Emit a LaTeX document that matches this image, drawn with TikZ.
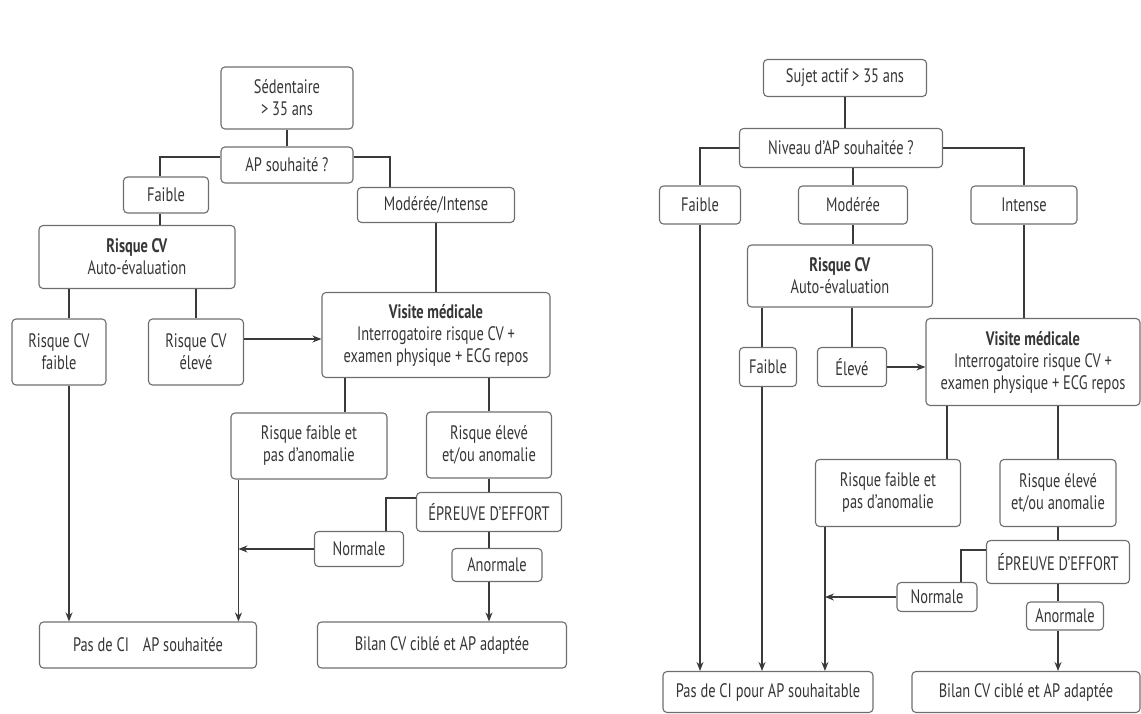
\documentclass[tikz,border=0pt]{standalone}
\usepackage{fontspec}
\setmainfont{PT Sans}[FakeStretch=0.74]
\usetikzlibrary{arrows.meta}
\definecolor{boxgray}{HTML}{6E6E6E}
\definecolor{linegray}{HTML}{3A3A3A}
\definecolor{txtgray}{HTML}{363636}

\begin{document}
\begin{tikzpicture}
    [ x=1pt, y=-1pt
    , every node/.style={font=\fontsize{19.5}{22}\selectfont, text=txtgray}
    , flowbox/.style={draw=boxgray, line width=1.1pt, rounded corners=4pt, align=center, inner sep=0pt}
    , link/.style={draw=linegray, line width=1.2pt}
    , >={Stealth[length=9pt,width=7pt]}
    ]
\useasboundingbox (0,0) rectangle (1141,713);

% left chart
\node[flowbox, minimum width=132pt, minimum height=62pt] (sed) at (287,98) {Sédentaire\\> 35 ans};
\node[flowbox, minimum width=132pt, minimum height=36pt] (aps) at (287,165) {AP souhaité ?};
\node[flowbox, minimum width=85pt, minimum height=36pt] (faibleL) at (166,195) {Faible};
\node[flowbox, minimum width=157pt, minimum height=35pt] (modint) at (436,205) {Modérée/Intense};
\node[flowbox, minimum width=196pt, minimum height=63pt] (rcvL) at (137,257) {\textbf{Risque CV}\\Auto-évaluation};
\node[flowbox, minimum width=94pt, minimum height=66pt] (rcvf) at (59,352) {Risque CV\\faible};
\node[flowbox, minimum width=95pt, minimum height=66pt] (rcve) at (196,352) {Risque CV\\élevé};
\node[flowbox, minimum width=228pt, minimum height=85pt] (visL) at (436,335) {\textbf{Visite médicale}\\Interrogatoire risque CV +\\examen physique + ECG repos};
\node[flowbox, minimum width=156pt, minimum height=66pt] (rfaL) at (309,446) {Risque faible et\\pas d’anomalie};
\node[flowbox, minimum width=125pt, minimum height=66pt] (reaL) at (489,445) {Risque élevé\\et/ou anomalie};
\node[flowbox, minimum width=145pt, minimum height=39pt] (effL) at (489,512) {ÉPREUVE D’EFFORT};
\node[flowbox, minimum width=89pt, minimum height=35pt] (normL) at (359,549) {Normale};
\node[flowbox, minimum width=90pt, minimum height=33pt] (anorL) at (497,565) {Anormale};
\node[flowbox, minimum width=217pt, minimum height=46pt] (pasL) at (148,645) {Pas de CI\hspace{10pt} AP souhaitée};
\node[flowbox, minimum width=249pt, minimum height=46pt] (bilL) at (442,645) {Bilan CV ciblé et AP adaptée};
\coordinate (jL) at ([xshift=8pt]rfaL.south west);

\draw[link] (sed) -- (aps);
\draw[link] ([yshift=8pt]aps.west) -| ([xshift=-6pt]faibleL.north);
\draw[link] ([yshift=8pt]aps.east) -| ([xshift=-46pt]modint.north);
\draw[link] ([xshift=-6pt]faibleL.south) -- ([xshift=-6pt]faibleL.south |- rcvL.north);
\draw[link] ([xshift=10pt]rcvf.north |- rcvL.south) -- ([xshift=10pt]rcvf.north);
\draw[link] (rcve.north |- rcvL.south) -- (rcve.north);
\draw[link,->] ([yshift=-4pt]visL.west -| rcve.east) -- ([yshift=-4pt]visL.west);
\draw[link] (modint) -- (visL);
\draw[link] ([xshift=-91pt]visL.south) -- ([xshift=-91pt]visL.south |- rfaL.north);
\draw[link] (reaL.north |- visL.south) -- (reaL.north);
\draw[link] (reaL) -- (effL);
\draw[link] ([yshift=14pt]effL.west) -| ([xshift=27pt]normL.north);
\draw[link] (effL.south) -- (effL.south |- anorL.north);
\draw[link,->] (effL.south |- anorL.south) -- (effL.south |- bilL.north);
\draw[link,->] ([xshift=10pt]rcvf.south) -- ([xshift=10pt]rcvf.south |- pasL.north);
\draw[link,->] (jL) -- (jL |- pasL.north);
\draw[link,->] (normL.west) -- (normL.west -| jL);

% right chart
\node[flowbox, minimum width=163pt, minimum height=37pt] (sujet) at (845,78) {Sujet actif > 35 ans};
\node[flowbox, minimum width=203pt, minimum height=39pt] (niv) at (841,148) {Niveau d’AP souhaitée ?};
\node[flowbox, minimum width=81pt, minimum height=38pt] (faibleR) at (700,205) {Faible};
\node[flowbox, minimum width=109pt, minimum height=38pt] (modR) at (853,205) {Modérée};
\node[flowbox, minimum width=106pt, minimum height=38pt] (intR) at (1024,205) {Intense};
\node[flowbox, minimum width=185pt, minimum height=62pt] (rcvR) at (840,276) {\textbf{Risque CV}\\Auto-évaluation};
\node[flowbox, minimum width=57pt, minimum height=39pt] (faible2) at (768,367) {Faible};
\node[flowbox, minimum width=69pt, minimum height=39pt] (eleve) at (852,367) {Élevé};
\node[flowbox, minimum width=214pt, minimum height=87pt] (visR) at (1033,362) {\textbf{Visite médicale}\\Interrogatoire risque CV +\\examen physique + ECG repos};
\node[flowbox, minimum width=145pt, minimum height=67pt] (rfaR) at (888,493) {Risque faible et\\pas d’anomalie};
\node[flowbox, minimum width=116pt, minimum height=67pt] (reaR) at (1058,493) {Risque élevé\\et/ou anomalie};
\node[flowbox, minimum width=143pt, minimum height=43pt] (effR) at (1058,562) {ÉPREUVE D’EFFORT};
\node[flowbox, minimum width=80pt, minimum height=29pt] (normR) at (937,597) {Normale};
\node[flowbox, minimum width=77pt, minimum height=28pt] (anorR) at (1065,616) {Anormale};
\node[flowbox, minimum width=210pt, minimum height=41pt] (pasR) at (768,692) {Pas de CI pour AP souhaitable};
\node[flowbox, minimum width=228pt, minimum height=41pt] (bilR) at (1026,692) {Bilan CV ciblé et AP adaptée};
\coordinate (jR) at ([xshift=10pt]rfaR.south west);

\draw[link] (sujet) -- (sujet |- niv.north);
\draw[link] (niv.west) -| (faibleR.north);
\draw[link] (niv.east) -| (intR.north);
\draw[link] (modR.north |- niv.south) -- (modR.north);
\draw[link] (modR.south) -- (modR.south |- rcvR.north);
\draw[link] ([xshift=-6pt]faible2.north |- rcvR.south) -- ([xshift=-6pt]faible2.north);
\draw[link] (eleve.north |- rcvR.south) -- (eleve.north);
\draw[link,->] (eleve.east) -- (eleve.east -| visR.west);
\draw[link] (intR.south) -- (intR.south |- visR.north);
\draw[link] ([xshift=-86pt]visR.south) -- ([xshift=-86pt]visR.south |- rfaR.north);
\draw[link] (reaR.north |- visR.south) -- (reaR.north);
\draw[link] (reaR) -- (effR);
\draw[link] ([yshift=12pt]effR.west) -| ([xshift=24pt]normR.north);
\draw[link] (effR.south) -- (effR.south |- anorR.north);
\draw[link,->] (effR.south |- anorR.south) -- (effR.south |- bilR.north);
\draw[link,->] (faibleR.south) -- (faibleR.south |- pasR.north);
\draw[link,->] ([xshift=-6pt]faible2.south) -- ([xshift=-6pt]faible2.south |- pasR.north);
\draw[link,->] (jR) -- (jR |- pasR.north);
\draw[link,->] (normR.west) -- (normR.west -| jR);
\end{tikzpicture}
\end{document}
